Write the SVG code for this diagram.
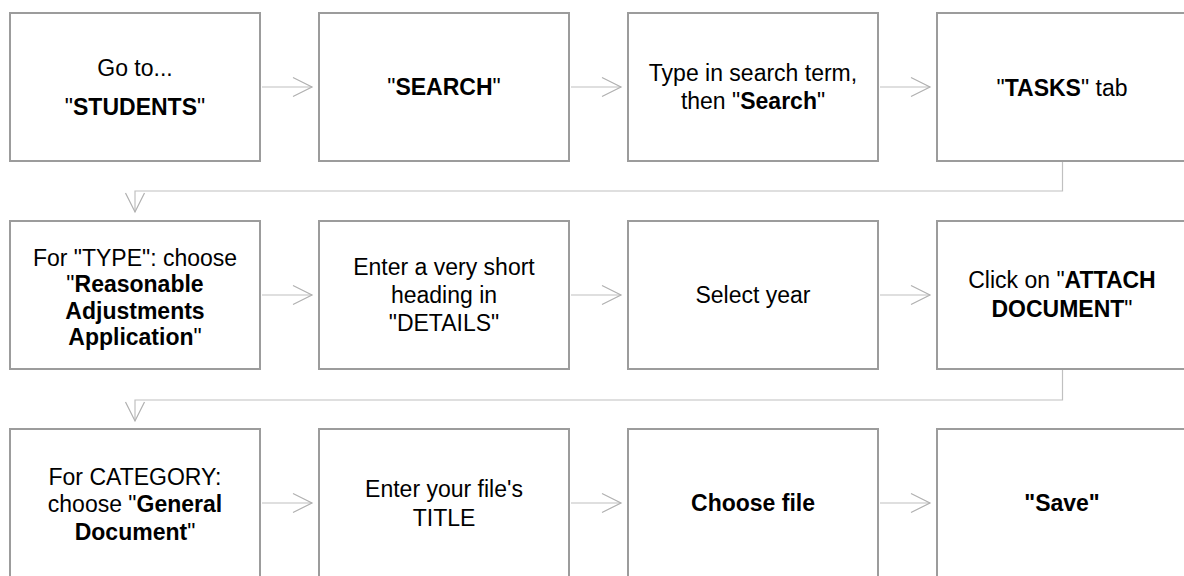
<svg xmlns="http://www.w3.org/2000/svg" width="1184" height="576" viewBox="0 0 1184 576">
<style>
.box{fill:#fff;stroke:#9c9c9c;stroke-width:2}
.con{fill:none;stroke:#c0c0c0;stroke-width:1.2}
text{font-family:"Liberation Sans",Arial,sans-serif;font-size:23px;fill:#000;text-anchor:middle}
.b{font-weight:bold}
</style>
<defs>
<marker id="arr" markerUnits="userSpaceOnUse" markerWidth="22" markerHeight="22" viewBox="0 0 22 22" refX="20" refY="11" orient="auto" overflow="visible">
<path d="M1,1.5 L20,11 L1,20.5" fill="none" stroke="#b0b0b0" stroke-width="1.2"/>
</marker>
</defs>
<rect width="1184" height="576" fill="#fff"/>
<g id="connectors">
<line class="con" x1="262" y1="87" x2="312" y2="87" marker-end="url(#arr)"/>
<line class="con" x1="571" y1="87" x2="621" y2="87" marker-end="url(#arr)"/>
<line class="con" x1="880" y1="87" x2="930" y2="87" marker-end="url(#arr)"/>
<polyline class="con" points="1062.5,162 1062.5,191 135,191 135,212" marker-end="url(#arr)"/>
<line class="con" x1="262" y1="295" x2="312" y2="295" marker-end="url(#arr)"/>
<line class="con" x1="571" y1="295" x2="621" y2="295" marker-end="url(#arr)"/>
<line class="con" x1="880" y1="295" x2="930" y2="295" marker-end="url(#arr)"/>
<polyline class="con" points="1062.5,370 1062.5,400 135,400 135,421" marker-end="url(#arr)"/>
<line class="con" x1="262" y1="503" x2="312" y2="503" marker-end="url(#arr)"/>
<line class="con" x1="571" y1="503" x2="621" y2="503" marker-end="url(#arr)"/>
<line class="con" x1="880" y1="503" x2="930" y2="503" marker-end="url(#arr)"/>
</g>
<g id="n1"><rect class="box" x="10" y="13" width="250" height="148"/>
<text x="135" y="76">Go to...</text>
<text x="135" y="115">"<tspan class="b">STUDENTS</tspan>"</text></g>
<g id="n2"><rect class="box" x="319" y="13" width="250" height="148"/>
<text x="444" y="95">"<tspan class="b">SEARCH</tspan>"</text></g>
<g id="n3"><rect class="box" x="628" y="13" width="250" height="148"/>
<text x="753" y="81">Type in search term,</text>
<text x="753" y="109">then "<tspan class="b">Search</tspan>"</text></g>
<g id="n4"><rect class="box" x="937" y="13" width="250" height="148"/>
<text x="1062" y="96">"<tspan class="b">TASKS</tspan>" tab</text></g>
<g id="n5"><rect class="box" x="10" y="221" width="250" height="148"/>
<text x="135" y="266">For "TYPE": choose</text>
<text x="135" y="292">"<tspan class="b">Reasonable</tspan></text>
<text x="135" y="319" class="b">Adjustments</text>
<text x="135" y="345"><tspan class="b">Application</tspan>"</text></g>
<g id="n6"><rect class="box" x="319" y="221" width="250" height="148"/>
<text x="444" y="275">Enter a very short</text>
<text x="444" y="303">heading in</text>
<text x="444" y="331">"DETAILS"</text></g>
<g id="n7"><rect class="box" x="628" y="221" width="250" height="148"/>
<text x="753" y="303">Select year</text></g>
<g id="n8"><rect class="box" x="937" y="221" width="250" height="148"/>
<text x="1062" y="288">Click on "<tspan class="b">ATTACH</tspan></text>
<text x="1062" y="317"><tspan class="b">DOCUMENT</tspan>"</text></g>
<g id="n9"><rect class="box" x="10" y="429" width="250" height="148"/>
<text x="135" y="485">For CATEGORY:</text>
<text x="135" y="512">choose "<tspan class="b">General</tspan></text>
<text x="135" y="540"><tspan class="b">Document</tspan>"</text></g>
<g id="n10"><rect class="box" x="319" y="429" width="250" height="148"/>
<text x="444" y="497">Enter your file's</text>
<text x="444" y="526">TITLE</text></g>
<g id="n11"><rect class="box" x="628" y="429" width="250" height="148"/>
<text x="753" y="511" class="b">Choose file</text></g>
<g id="n12"><rect class="box" x="937" y="429" width="250" height="148"/>
<text x="1062" y="511" class="b">"Save"</text></g>
</svg>
